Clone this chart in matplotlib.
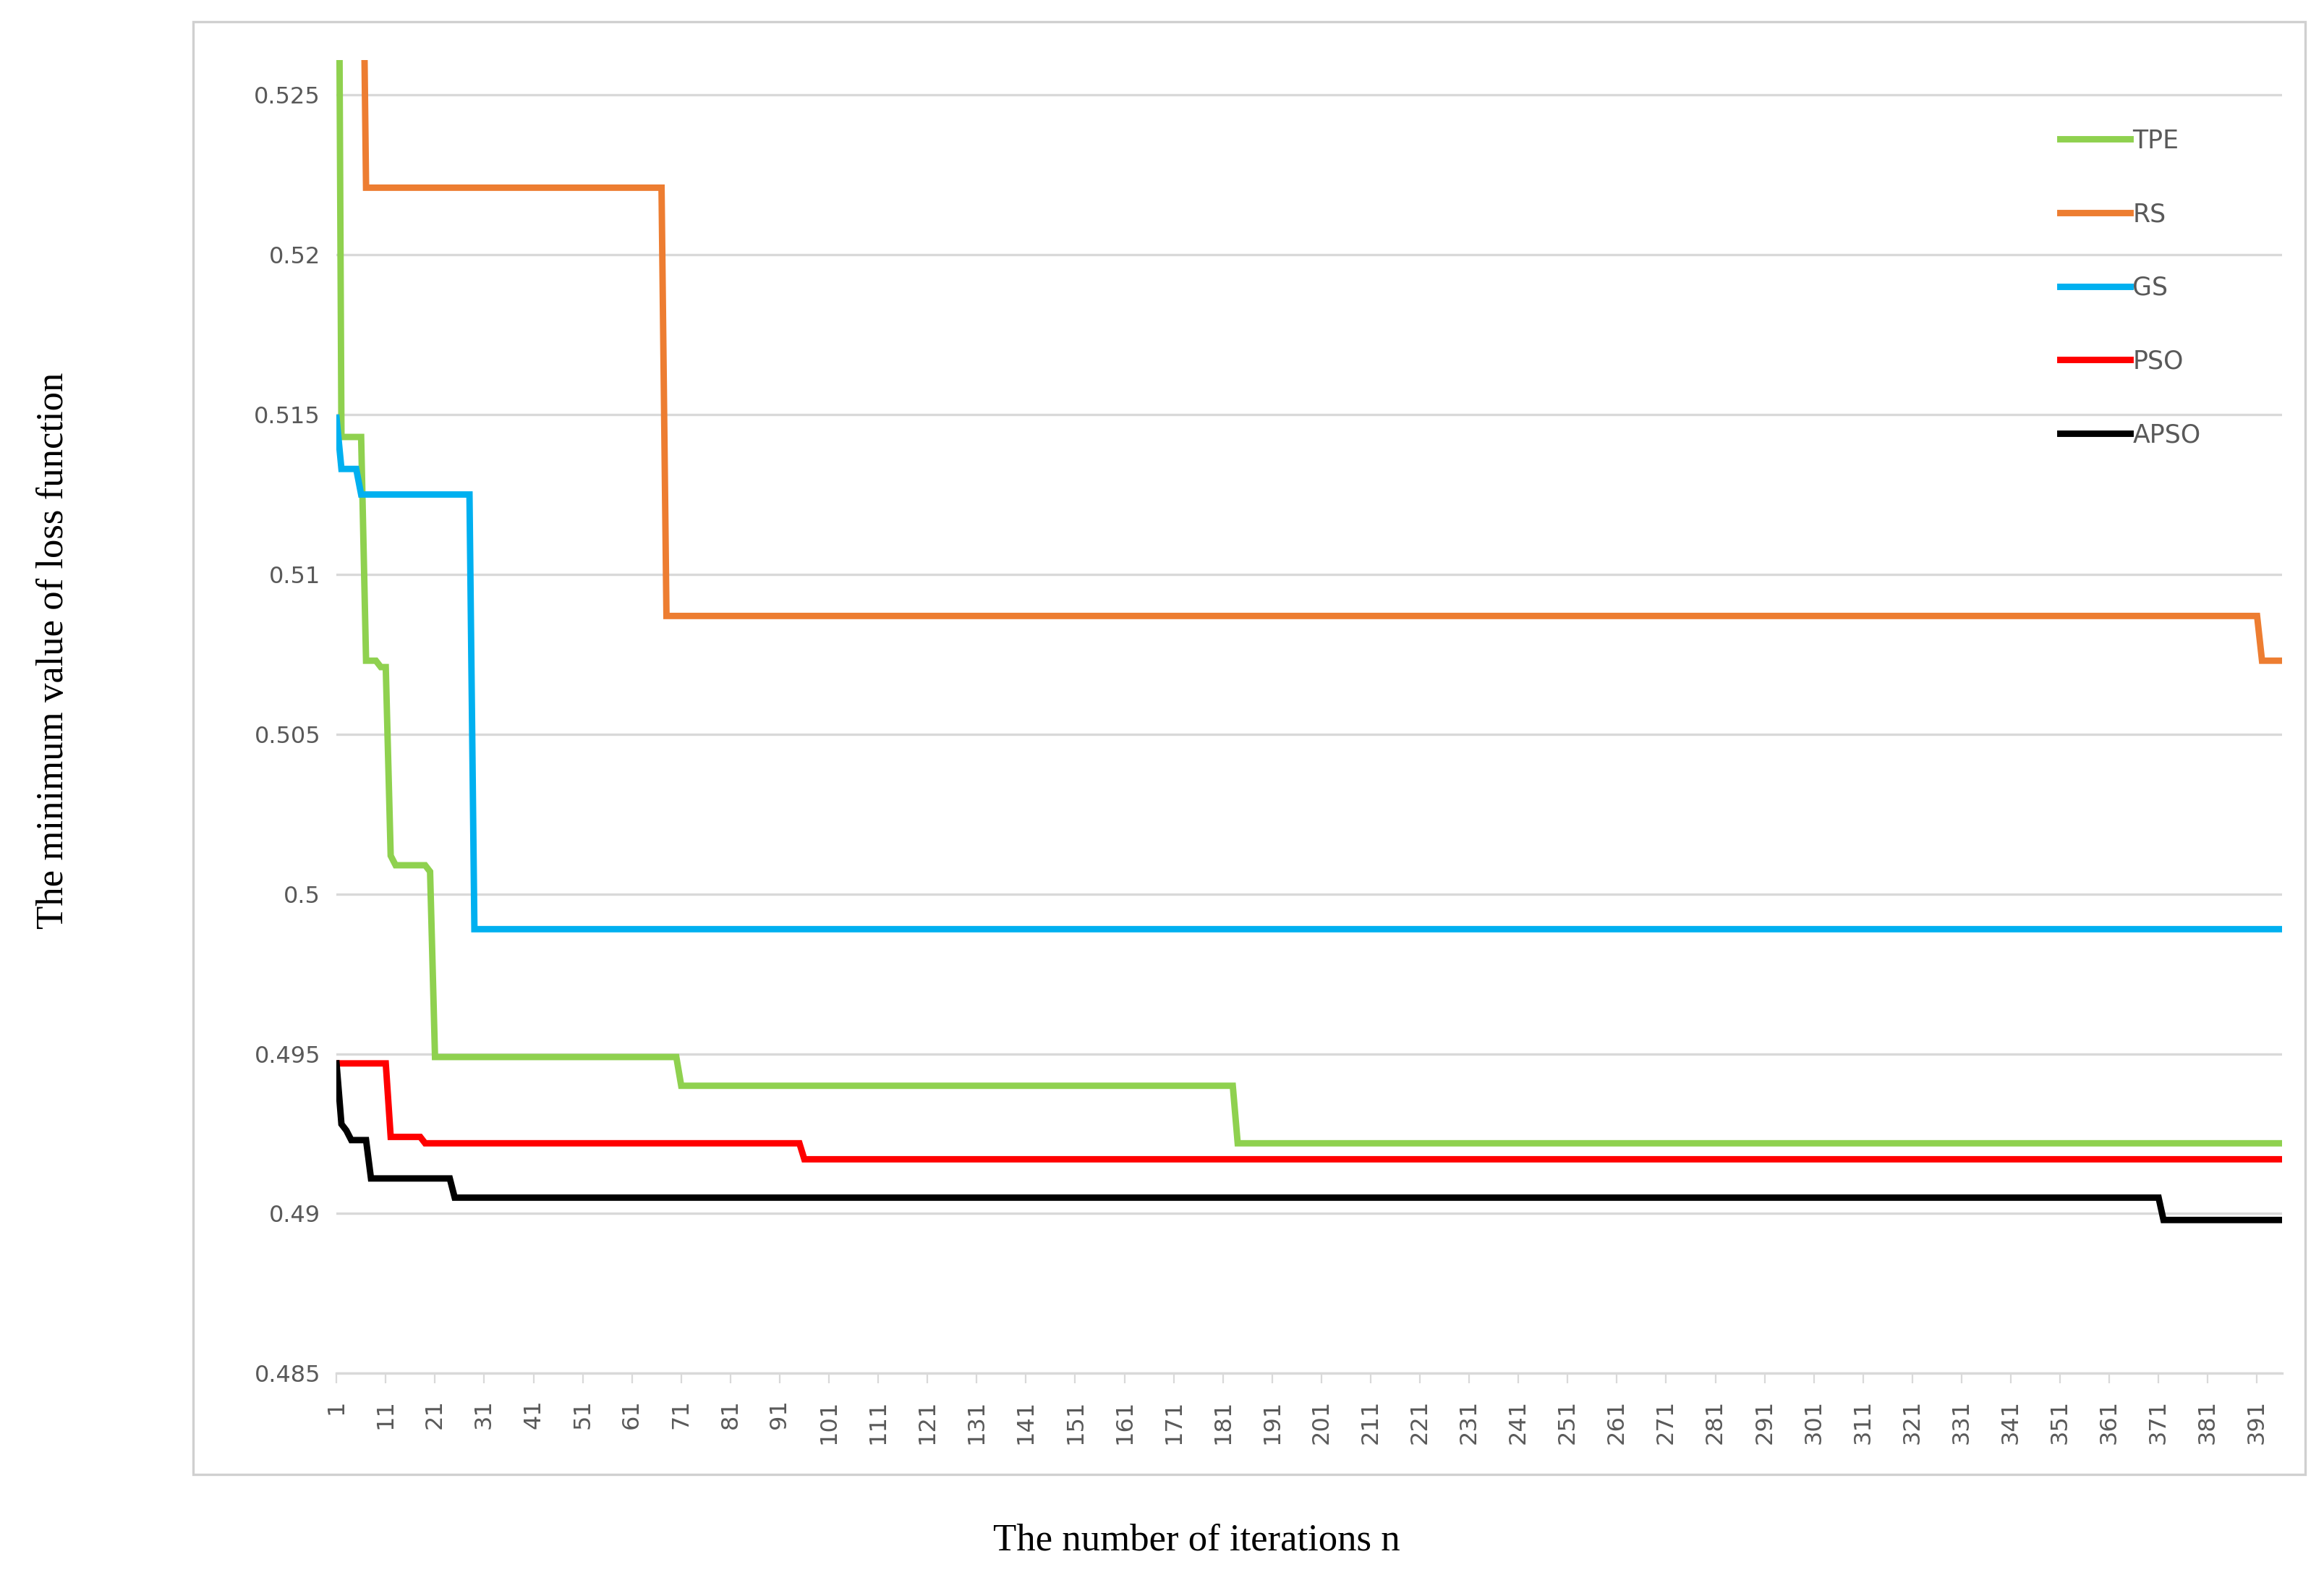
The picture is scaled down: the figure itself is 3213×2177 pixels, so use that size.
import numpy as np
import matplotlib
matplotlib.use("Agg")
import matplotlib.pyplot as plt
from matplotlib.patches import Rectangle

N = 396
iterations = np.arange(1, N + 1)

# step series as (value, run length)
tpe_vals = [0.545, 0.5143, 0.5073, 0.5071, 0.5012, 0.5009, 0.5007, 0.4949, 0.4940, 0.4922]
tpe_runs = [1, 5, 3, 2, 1, 7, 1, 50, 113, 213]
rs_vals = [0.535, 0.5221, 0.5087, 0.5073]
rs_runs = [6, 61, 324, 5]
gs_vals = [0.5149, 0.5133, 0.5125, 0.4989]
gs_runs = [1, 4, 23, 368]
pso_vals = [0.4947, 0.4924, 0.4922, 0.4917]
pso_runs = [11, 7, 77, 301]
apso_vals = [0.4947, 0.4928, 0.4926, 0.4923, 0.4911, 0.4905, 0.4898]
apso_runs = [1, 1, 1, 4, 17, 347, 25]

series = [("TPE", tpe_vals, tpe_runs, "#8fd14f"),
          ("RS", rs_vals, rs_runs, "#ed7d31"),
          ("GS", gs_vals, gs_runs, "#00b0f0"),
          ("PSO", pso_vals, pso_runs, "#ff0000"),
          ("APSO", apso_vals, apso_runs, "#000000")]

fig = plt.figure(figsize=(16.065, 10.885), dpi=200)
fig.patches.append(Rectangle((0.083, 0.064), 0.909, 0.922, transform=fig.transFigure,
                             fill=False, edgecolor="#d0d0d0", linewidth=1.2))
ax = fig.add_axes([0.1448, 0.128, 0.837, 0.834])
for name, vals, runs, c in series:
    y = np.repeat(vals, runs)
    ax.plot(iterations, y, color=c, lw=3.2, label=name, solid_joinstyle="miter")

ax.set_xlim(1, N)
ax.set_ylim(0.485, 0.5261)
ax.set_yticks([0.485, 0.49, 0.495, 0.5, 0.505, 0.51, 0.515, 0.52, 0.525])
ax.set_yticklabels(["0.485", "0.49", "0.495", "0.5", "0.505", "0.51", "0.515", "0.52", "0.525"])
xt = np.arange(1, N + 1, 10)
ax.set_xticks(xt)
ax.set_xticklabels([str(v) for v in xt], rotation=90)
ax.tick_params(axis="both", labelsize=11.5, colors="#595959", length=0, pad=8)
ax.tick_params(axis="x", length=5, color="#d9d9d9")
ax.grid(axis="y", color="#d9d9d9", lw=1.2)
ax.set_axisbelow(True)
for s in ["top", "right", "left"]:
    ax.spines[s].set_visible(False)
ax.spines["bottom"].set_color("#d9d9d9")
ax.spines["bottom"].set_linewidth(1.2)

fig.text(0.023, 0.587, "The minimum value of loss function", fontsize=19,
         family="Liberation Serif", rotation=90, ha="center", va="center")
fig.text(0.515, 0.022, "The number of iterations n", fontsize=19,
         family="Liberation Serif", ha="center", va="center")

leg = ax.legend(loc="upper right", bbox_to_anchor=(0.97, 0.965), frameon=False, fontsize=12.5,
                handlelength=2.8, labelspacing=1.95, handletextpad=0.1)
for t in leg.get_texts():
    t.set_color("#595959")

fig.savefig("out.png", dpi=200)
